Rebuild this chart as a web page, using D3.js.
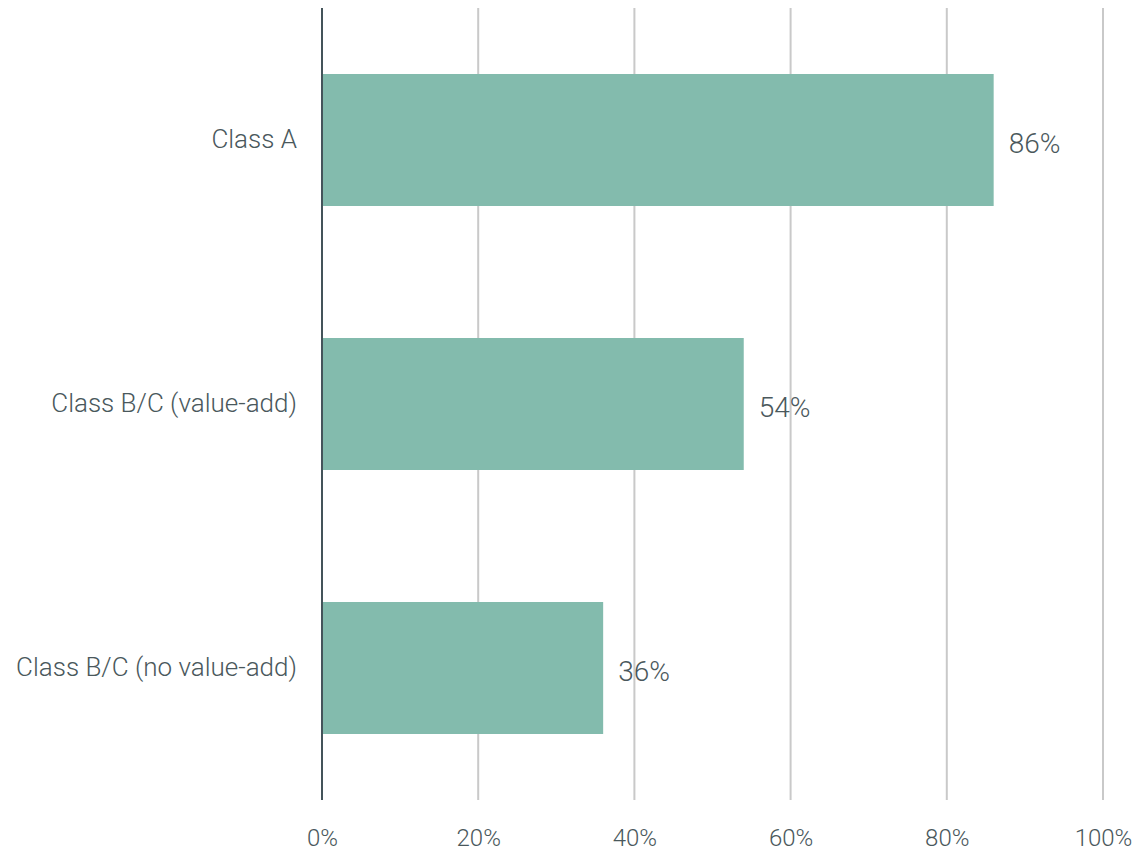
<!DOCTYPE html>
<html>
<head>
<meta charset="utf-8">
<script src="https://cdn.jsdelivr.net/npm/d3@7"></script>
<style>
  html, body { margin: 0; padding: 0; background: #fff; }
  svg text { font-family: Roboto, "Noto Sans", sans-serif; font-weight: 300; fill: #4a585c; }
</style>
</head>
<body>
<svg id="chart" width="1138" height="852"></svg>
<script>
// Share of assets by class
const categories = ["Class A", "Class B/C (value-add)", "Class B/C (no value-add)"];
const values = [86, 54, 36];
const tickValues = [0, 20, 40, 60, 80, 100];

const svg = d3.select("#chart");
const margin = { top: 8, left: 322, right: 35, bottom: 52 };
const width = 1138, height = 852;
const textColor = "#4a585c";

const x = d3.scaleLinear().domain([0, 100]).range([margin.left, width - margin.right]);
const y = d3.scaleBand().domain(categories).range([margin.top, height - margin.bottom]).paddingInner(0.5).paddingOuter(0.25);

// vertical gridlines
svg.append("g")
  .selectAll("line")
  .data(tickValues.filter(d => d > 0))
  .join("line")
  .attr("x1", d => x(d)).attr("x2", d => x(d))
  .attr("y1", margin.top).attr("y2", height - margin.bottom)
  .attr("stroke", "#c9c9c9").attr("stroke-width", 2);

// bars
svg.append("g")
  .selectAll("rect")
  .data(values)
  .join("rect")
  .attr("x", x(0))
  .attr("y", (d, i) => y(categories[i]))
  .attr("width", d => x(d) - x(0))
  .attr("height", y.bandwidth())
  .attr("fill", "#83bbad");

// value labels
svg.append("g")
  .selectAll("text")
  .data(values)
  .join("text")
  .attr("x", d => x(d) + 15)
  .attr("y", (d, i) => y(categories[i]) + y.bandwidth() / 2 + 3)
  .attr("dy", "0.35em")
  .attr("font-size", 28)
  .text(d => d + "%");

// x axis tick labels
const xAxis = d3.axisBottom(x).tickValues(tickValues).tickFormat(d => d + "%").tickSize(0).tickPadding(0);
const gx = svg.append("g").attr("transform", `translate(0,${height - margin.bottom})`).call(xAxis);
gx.select(".domain").remove();
gx.selectAll("text").attr("font-size", 24).attr("y", 46).attr("dy", "0")
  .style("fill", textColor).style("font-family", "Roboto, sans-serif").style("font-weight", 300);

// y axis category labels
const yAxis = d3.axisLeft(y).tickSize(0).tickPadding(25);
const gy = svg.append("g").attr("transform", `translate(${margin.left},0)`).call(yAxis);
gy.select(".domain").remove();
gy.selectAll("text").attr("font-size", 26)
  .style("fill", textColor).style("font-family", "Roboto, sans-serif").style("font-weight", 300);

// baseline at zero
svg.append("line")
  .attr("x1", x(0)).attr("x2", x(0))
  .attr("y1", margin.top).attr("y2", height - margin.bottom)
  .attr("stroke", "#44545a").attr("stroke-width", 2);
</script>
</body>
</html>
